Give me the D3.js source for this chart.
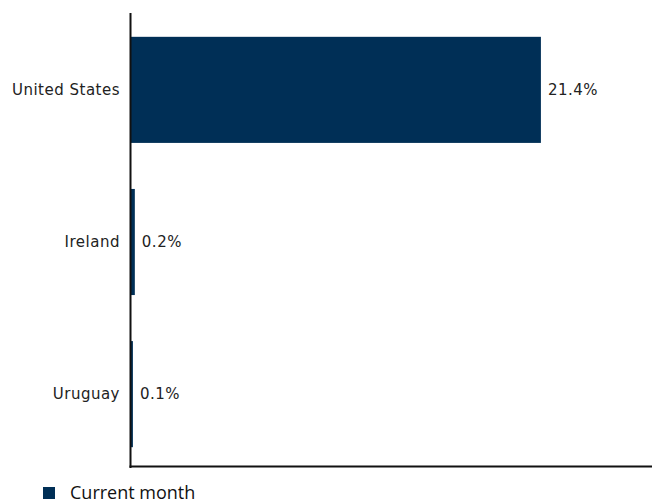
<!DOCTYPE html>
<html>
<head>
<meta charset="utf-8">
<style>
  body { margin: 0; background: #fff; }
  .label { font: 15px "DejaVu Sans", sans-serif; letter-spacing: 0.5px; fill: #222; }
  .legend { font: 18px "Open Sans", sans-serif; fill: #111; }
</style>
</head>
<body>
<script src="https://cdn.jsdelivr.net/npm/d3@7"></script>
<script>
var countries = ["United States", "Ireland", "Uruguay"];
var values = [21.4, 0.2, 0.1];
var seriesName = "Current month";

var width = 652, height = 502;
var mLeft = 131, mRight = 652, mTop = 13, mBottom = 467;
var barColor = "#002f56";

var svg = d3.select("body").append("svg")
    .attr("width", width)
    .attr("height", height);

var x = d3.scaleLinear().domain([0, 27.2]).range([mLeft, mRight]);
var y = d3.scaleBand().domain(countries).range([14, 470])
    .paddingInner(46 / 152).paddingOuter(0.15);

var data = countries.map(function(c, i) { return {name: c, value: values[i]}; });

svg.append("g").selectAll("rect")
  .data(data)
  .join("rect")
    .attr("x", x(0))
    .attr("y", d => y(d.name))
    .attr("width", d => Math.max(1.5, x(d.value) - x(0)))
    .attr("height", y.bandwidth())
    .attr("fill", barColor);

// value labels
svg.append("g").selectAll("text")
  .data(data)
  .join("text")
    .attr("class", "label")
    .attr("x", d => x(d.value) + 7)
    .attr("y", d => y(d.name) + y.bandwidth() / 2)
    .attr("dy", "0.35em")
    .text(d => d.value.toFixed(1) + "%");

// category labels
svg.append("g").selectAll("text")
  .data(countries)
  .join("text")
    .attr("class", "label")
    .attr("x", mLeft - 11)
    .attr("y", d => y(d) + y.bandwidth() / 2)
    .attr("dy", "0.35em")
    .attr("text-anchor", "end")
    .text(d => d);

// axis lines
svg.append("line")
    .attr("x1", mLeft - 0.5).attr("x2", mLeft - 0.5)
    .attr("y1", mTop).attr("y2", mBottom + 1)
    .attr("stroke", "#111").attr("stroke-width", 2);
svg.append("line")
    .attr("x1", mLeft - 1.5).attr("x2", mRight)
    .attr("y1", mBottom - 0.5).attr("y2", mBottom - 0.5)
    .attr("stroke", "#111").attr("stroke-width", 2);

// legend
var lg = svg.append("g").attr("transform", "translate(43,487)");
lg.append("rect").attr("width", 12).attr("height", 12).attr("fill", barColor);
lg.append("text").attr("class", "legend")
    .attr("x", 27).attr("y", 12)
    .text(seriesName);
</script>
</body>
</html>
